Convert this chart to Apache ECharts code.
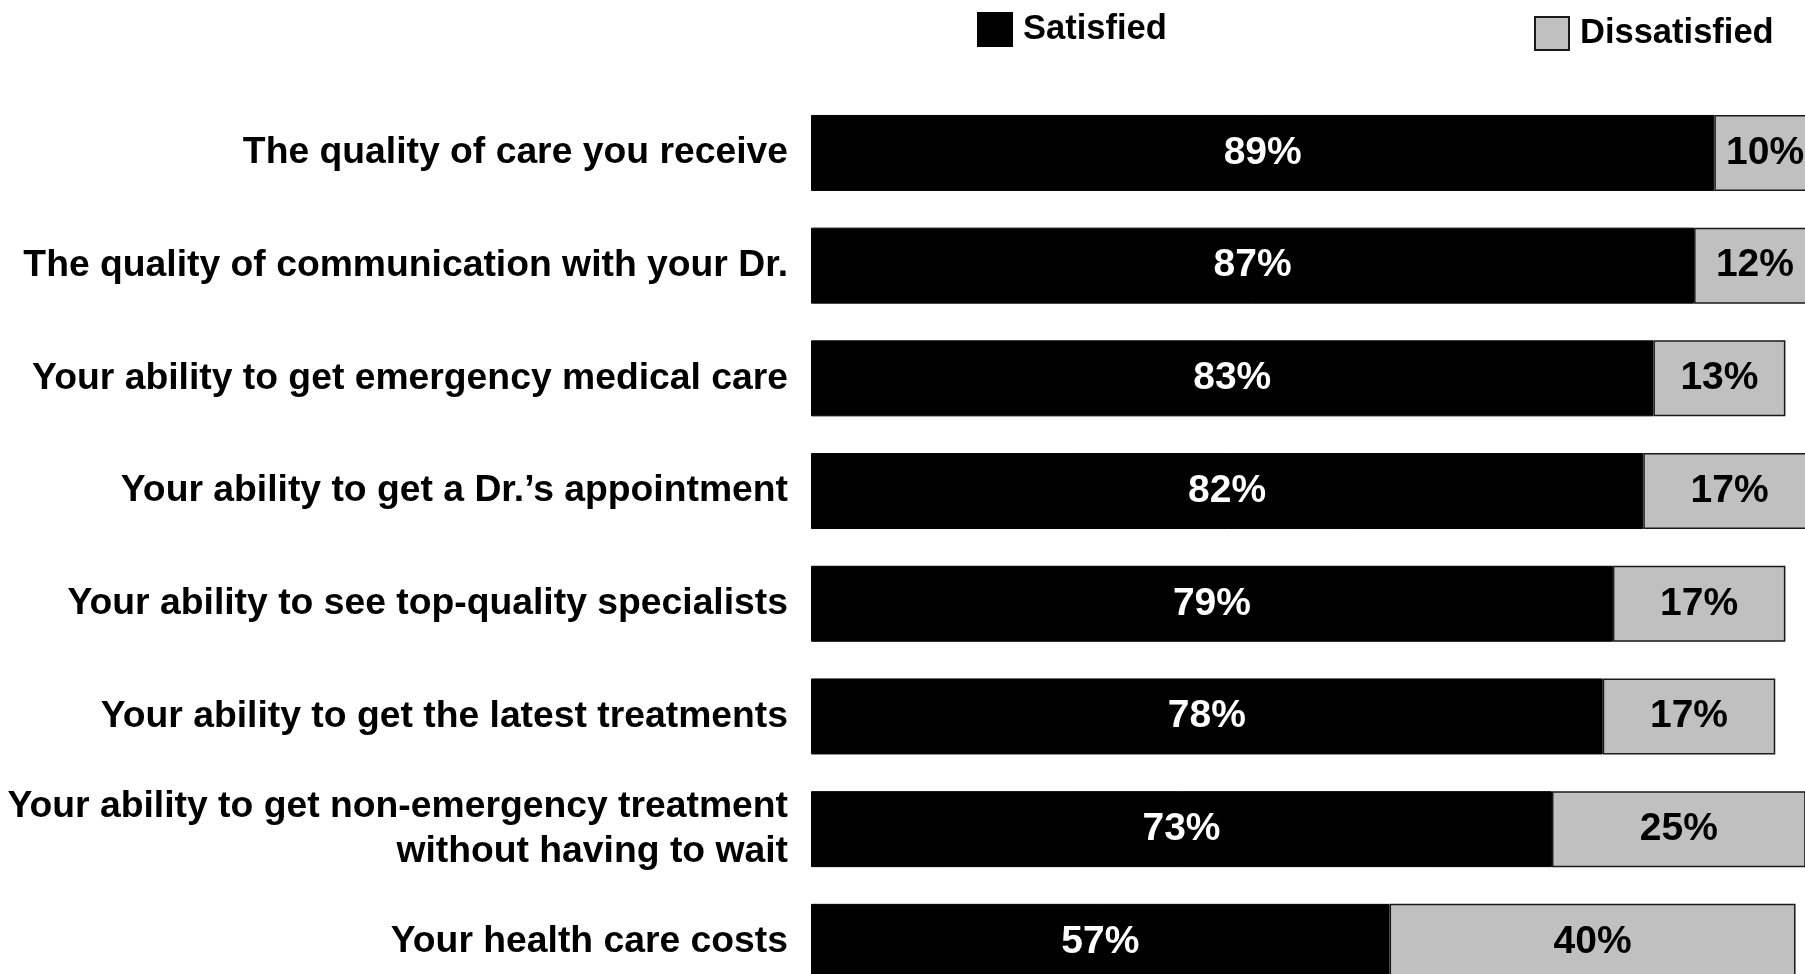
<!DOCTYPE html>
<html>
<head>
<meta charset="utf-8">
<title>Satisfaction with health care</title>
<script src="https://cdn.jsdelivr.net/npm/echarts@6/dist/echarts.min.js"></script>
<style>
  html, body { margin: 0; padding: 0; background: #fff; }
  #chart { width: 1805px; height: 974px; }
</style>
</head>
<body>
<div id="chart"></div>
<script>
// Survey items, top to bottom
const categories = [
  'The quality of care you receive',
  'The quality of communication with your Dr.',
  'Your ability to get emergency medical care',
  'Your ability to get a Dr.\u2019s appointment',
  'Your ability to see top-quality specialists',
  'Your ability to get the latest treatments',
  'Your ability to get non-emergency treatment\nwithout having to wait',
  'Your health care costs'
];
// Share of respondents (%)
const satisfied = [89, 87, 83, 82, 79, 78, 73, 57];
const dissatisfied = [10, 12, 13, 17, 17, 17, 25, 40];

const FONT = '"Liberation Sans", Arial, Helvetica, sans-serif';

const chart = echarts.init(document.getElementById('chart'), null, { renderer: 'canvas' });

const legendText = {
  fontSize: 34.5, fontWeight: 'bold', color: '#000', fontFamily: FONT,
  lineHeight: 34, padding: [11, 0, 0, 6]
};

chart.setOption({
  animation: false,
  backgroundColor: '#ffffff',
  textStyle: { fontFamily: FONT },
  legend: [
    {
      data: ['Satisfied'],
      left: 977, top: 7, padding: 0,
      itemWidth: 34, itemHeight: 33, itemGap: 0,
      icon: 'rect',
      textStyle: legendText
    },
    {
      data: ['Dissatisfied'],
      left: 1534, top: 11, padding: 0,
      itemWidth: 34, itemHeight: 33, itemGap: 0,
      icon: 'rect',
      textStyle: legendText
    }
  ],
  // The bar area runs past the right and bottom edges of the canvas
  grid: {
    left: 811,
    top: 96.6,
    width: 1015,
    height: 901.6,
    outerBoundsMode: 'none',
    containLabel: false
  },
  xAxis: {
    type: 'value',
    min: 0,
    max: 100,
    show: false
  },
  yAxis: {
    type: 'category',
    data: categories,
    inverse: true,
    axisLine: { show: false },
    axisTick: { show: false },
    splitLine: { show: false },
    axisLabel: {
      margin: 23,
      fontSize: 37.3,
      fontWeight: 'bold',
      color: '#000',
      fontFamily: FONT,
      lineHeight: 45,
      align: 'right',
      padding: [0, 0, 4, 0]
    }
  },
  series: [
    {
      name: 'Satisfied',
      type: 'bar',
      stack: 'total',
      data: satisfied,
      barWidth: 76,
      itemStyle: { color: '#000000', borderColor: '#000000', borderWidth: 1 },
      label: {
        show: true,
        position: 'inside',
        formatter: '{c}%',
        color: '#ffffff',
        fontSize: 39,
        fontWeight: 'bold',
        fontFamily: FONT
      }
    },
    {
      name: 'Dissatisfied',
      type: 'bar',
      stack: 'total',
      data: dissatisfied,
      barWidth: 76,
      itemStyle: { color: '#c0c0c0', borderColor: '#1a1a1a', borderWidth: 1.5 },
      label: {
        show: true,
        position: 'inside',
        formatter: '{c}%',
        color: '#000000',
        fontSize: 39,
        fontWeight: 'bold',
        fontFamily: FONT
      }
    }
  ]
});
</script>
</body>
</html>
